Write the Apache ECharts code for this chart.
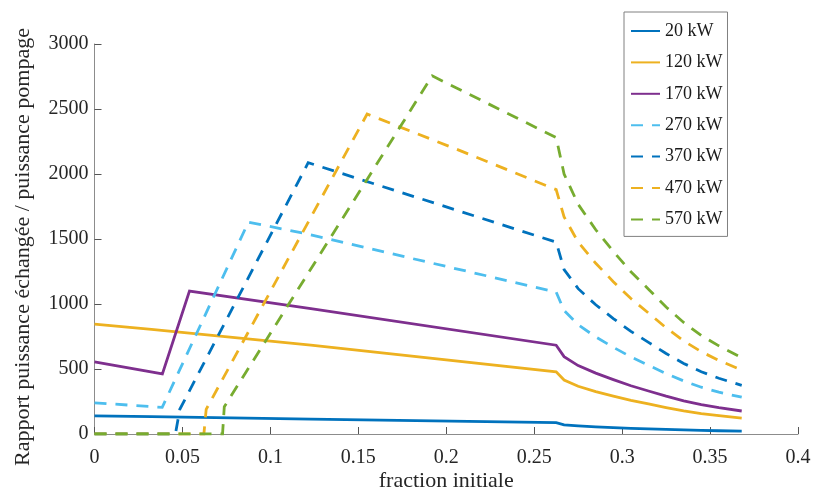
<!DOCTYPE html>
<html>
<head>
<meta charset="utf-8">
<script src="https://cdn.jsdelivr.net/npm/echarts@6/dist/echarts.min.js"></script>
<style>
html,body{margin:0;padding:0;background:#fff;}
#chart{width:814px;height:489px;}
</style>
</head>
<body>
<div id="chart"></div>
<script>
// ---- data ----
const seriesNames = ['20 kW', '120 kW', '170 kW', '270 kW', '370 kW', '470 kW', '570 kW'];
const decayX = [0.267, 0.275, 0.285, 0.295, 0.305, 0.315, 0.325, 0.335, 0.345, 0.355, 0.368];

const x20 = [0, 0.0324, 0.123, 0.2426, 0.2625];
const y20 = [140, 133, 114, 92, 87, 70, 62, 55, 49, 44, 39, 35, 31, 28, 25, 22];

const x120 = [0, 0.0324, 0.123, 0.2625];
const y120 = [845, 805, 683, 478, 415, 367, 326, 291, 259, 231, 203, 178, 157, 141, 122];

const x170 = [0, 0.0386, 0.054, 0.123, 0.2625];
const y170 = [555, 462, 1100, 964, 683, 595, 526, 468, 418, 371, 331, 291, 255, 226, 202, 177];

const x270 = [0, 0.0385, 0.0875, 0.1187, 0.2625];
const y270 = [240, 205, 1630, 1545, 1092, 950, 840, 747, 667, 593, 529, 465, 408, 360, 322, 283];

const x370 = [0, 0.046, 0.0485, 0.1215, 0.2625];
const y370 = [0, 0, 190, 2087, 1476, 1265, 1118, 994, 888, 789, 705, 619, 543, 479, 429, 374];

const x470 = [0, 0.0622, 0.0635, 0.155, 0.206, 0.2625];
const y470 = [0, 0, 190, 2461, 2190, 1880, 1670, 1476, 1313, 1172, 1042, 930, 817, 716, 633, 566, 492];

const x570 = [0, 0.0728, 0.0738, 0.192, 0.2625];
const y570 = [0, 0, 210, 2755, 2280, 2000, 1767, 1571, 1404, 1248, 1114, 977, 858, 758, 678, 588];

const xTicks = [0, 0.05, 0.1, 0.15, 0.2, 0.25, 0.3, 0.35, 0.4];
const yTicks = [0, 500, 1000, 1500, 2000, 2500, 3000];

// ---- build ----
function pairs(xHead, ys) {
  const xsAll = xHead.concat(decayX);
  return ys.map((v, i) => [xsAll[i], v]);
}
const colors = ['#0072BD', '#EDB120', '#7E2F8E', '#4DBEEE', '#0072BD', '#EDB120', '#77AC30'];
const heads = [x20, x120, x170, x270, x370, x470, x570];
const vals = [y20, y120, y170, y270, y370, y470, y570];
const dashed = [false, false, false, true, true, true, true];

const FONT = 'Liberation Serif';
const chart = echarts.init(document.getElementById('chart'), null, {renderer: 'canvas'});
chart.setOption({
  animation: false,
  backgroundColor: '#ffffff',
  grid: {left: 94.5, right: 16, top: 44, bottom: 55, containLabel: false, outerBoundsMode: 'none'},
  legend: {
    orient: 'vertical',
    left: 624, top: 12,
    padding: [10, 5, 8, 6],
    itemWidth: 29, itemHeight: 14, itemGap: 13.4,
    backgroundColor: '#ffffff',
    borderColor: '#808080', borderWidth: 1, borderRadius: 0,
    itemStyle: {opacity: 0},
    textStyle: {fontFamily: FONT, fontSize: 18, color: '#1a1a1a'},
    data: seriesNames
  },
  xAxis: {
    type: 'value', min: xTicks[0], max: xTicks[xTicks.length - 1], interval: 0.05,
    name: 'fraction initiale', nameLocation: 'middle', nameGap: 36, nameMoveOverlap: false,
    nameTextStyle: {fontFamily: FONT, fontSize: 22, color: '#262626'},
    axisLine: {show: true, onZero: false, lineStyle: {color: '#8c8c8c', width: 1}},
    axisTick: {show: true, inside: true, length: 7, lineStyle: {color: '#555'}},
    axisLabel: {fontFamily: FONT, fontSize: 20, color: '#262626', margin: 14,
      formatter: v => String(+v.toFixed(2))},
    splitLine: {show: false}
  },
  yAxis: {
    type: 'value', min: yTicks[0], max: yTicks[yTicks.length - 1], interval: 500,
    name: 'Rapport puissance échangée / puissance pompage', nameLocation: 'middle', nameGap: 60,
    nameRotate: 90, nameMoveOverlap: false,
    nameTextStyle: {fontFamily: FONT, fontSize: 22, color: '#262626', padding: [0, 16, 0, 0]},
    axisLine: {show: true, lineStyle: {color: '#8c8c8c', width: 1}},
    axisTick: {show: true, inside: true, length: 7, lineStyle: {color: '#555'}},
    axisLabel: {fontFamily: FONT, fontSize: 20, color: '#262626', margin: 6,
      formatter: v => String(v)},
    splitLine: {show: false}
  },
  series: seriesNames.map((n, i) => ({
    name: n, type: 'line', symbol: 'none', showSymbol: false,
    data: pairs(heads[i], vals[i]),
    color: colors[i],
    lineStyle: {color: colors[i], width: 2.8, type: dashed[i] ? [12, 9] : 'solid', cap: 'butt', join: 'miter'},
    itemStyle: {color: colors[i]},
    z: 2 + i
  }))
});
</script>
</body>
</html>
